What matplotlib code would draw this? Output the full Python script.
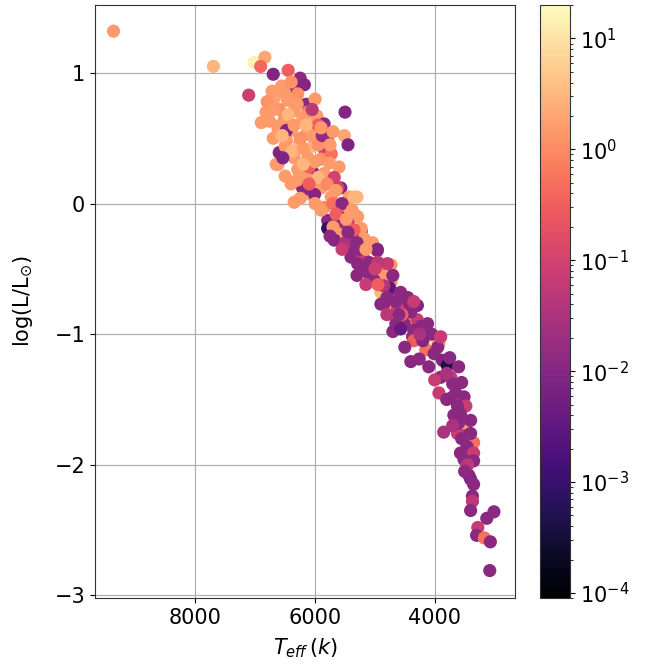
import matplotlib
matplotlib.use("Agg")
import matplotlib.pyplot as plt
from matplotlib.colors import LogNorm

# effective temperature (K)
teff = [
    # upper outliers
    9370, 7700, 7020, 6840, 6910, 6700, 7110, 6450, 6250, 6180, 6350, 5500, 5510, 5450, 6150,
    # upper orange blob
    6510, 6290, 6680, 6460, 6820, 6600, 6350, 6120, 5970, 5850, 6760, 6510, 6230, 6040, 6620,
    6400, 6150, 5930, 5790, 6600, 6480, 6260, 6040, 5850, 6620, 6350, 6120, 5900, 5730, 5600,
    6290, 6040, 5850, 5680, 5570, 6210, 6350, 6070, 5900, 5730, 5430, 5300, 5850, 5620, 5460,
    5320, 6650, 6180, 6010, 5620, 5350, 6720, 6560, 6400, 6580, 6450, 6300, 6200, 6050, 6700,
    6500, 6380, 6200, 5950, 5760, 6500, 6150, 5950, 6400, 5800, 6250, 6000, 5700, 5950, 6480,
    5880, 6540, 6300, 6100, 5700, 5750, 6000, 6050, 6800, 6900,
    6350, 6250, 6150, 5900, 6700, 6550, 6000, 6200, 5650, 6100,
    # middle band
    5790, 5790, 5540, 5620, 5900, 5290, 5230, 5680, 5400, 5180, 5230, 5040, 4960, 5400, 5200,
    5040, 4730, 5290, 4900, 4850, 5070, 4730, 4760, 4900, 4620, 4900, 4680, 4510, 4290, 4570,
    4350, 4120, 4460, 5450, 5180, 5400, 4960, 4790, 5010, 4760, 4570, 4850, 4620, 4290, 4510,
    5600, 5500, 5350, 5100, 4950, 5150, 5250, 4850, 4650, 4400, 4350, 5700, 5550, 5450, 5000,
    4800, 4550,
    5650, 5480, 5380, 5750, 5550, 5300, 5150, 5300, 5150, 4950, 4700, 4800, 4650, 4450, 4350,
    4700,
    # lower branch
    4600, 4570, 4230, 4370, 4150, 4350, 4120, 4150, 3930, 4010, 4400, 4260, 3870, 3790, 3600,
    3730, 3900, 3700, 3930, 3730, 3510, 3480, 3620, 3850, 3520, 3570, 3400, 3510, 3350, 3460,
    3570, 3350, 3680, 3620, 3400, 3510, 3350, 3430, 3400, 3370, 3370, 3010, 3130, 3280, 3300,
    3170, 3070, 3080, 4050, 3950, 3800, 3650, 3600, 3450, 3900, 4200, 3750, 3550,
    4250, 4500, 4100, 4000, 3800, 3700, 3550, 3500, 3350, 3400,
]

# log(L / Lsun)
logl = [
    1.32, 1.05, 1.08, 1.12, 1.05, 0.99, 0.83, 1.02, 0.96, 0.91, 0.89, 0.70, 0.52, 0.45, 0.76,
    0.85, 0.84, 0.81, 0.79, 0.70, 0.72, 0.71, 0.70, 0.67, 0.61, 0.63, 0.65, 0.62, 0.60, 0.57,
    0.56, 0.53, 0.54, 0.48, 0.39, 0.48, 0.46, 0.44, 0.42, 0.30, 0.35, 0.35, 0.34, 0.38, 0.28,
    0.26, 0.24, 0.23, 0.20, 0.12, 0.12, 0.01, 0.07, 0.12, 0.05, 0.05, 0.05, -0.03, -0.05, -0.03,
    -0.09, 0.30, 0.11, 0.07, 0.12, 0.05, 0.86, 0.90, 0.93, 0.60, 0.68, 0.76, 0.66, 0.52, 0.50,
    0.44, 0.40, 0.42, 0.45, 0.31, 0.21, 0.20, 0.20, 0.15, 0.15, 0.04, 0.00, 0.00, 0.60, 0.56,
    0.52, 0.35, 0.18, 0.28, 0.55, 0.45, 0.80, 0.72, 0.78, 0.62,
    0.60, 0.50, 0.60, 0.58, 0.72, 0.52, 0.32, 0.30, 0.10, 0.15,
    -0.13, -0.19, -0.19, -0.23, -0.05, -0.10, -0.21, -0.28, -0.28, -0.28, -0.19, -0.30, -0.36, -0.41, -0.41,
    -0.46, -0.47, -0.46, -0.54, -0.56, -0.57, -0.60, -0.64, -0.68, -0.69, -0.77, -0.82, -0.79, -0.78, -0.94,
    -0.89, -0.92, -0.92, -0.15, -0.27, -0.36, -0.35, -0.46, -0.59, -0.65, -0.68, -0.77, -0.80, -0.89, -0.92,
    -0.10, -0.30, -0.20, -0.45, -0.45, -0.52, -0.35, -0.63, -0.75, -0.83, -0.97, -0.18, 0.00, -0.22, -0.50,
    -0.72, -0.85,
    -0.08, -0.12, -0.05, -0.25, -0.35, -0.30, -0.35, -0.55, -0.62, -0.62, -0.55, -0.85, -0.92, -0.72, -0.75,
    -0.98,
    -0.85, -0.96, -0.94, -1.02, -0.99, -1.05, -1.08, -1.12, -1.07, -1.15, -1.21, -1.19, -1.20, -1.24, -1.25,
    -1.33, -1.33, -1.38, -1.45, -1.49, -1.48, -1.55, -1.55, -1.75, -1.71, -1.61, -1.66, -1.78, -1.83, -1.86,
    -1.91, -1.91, -1.62, -1.76, -1.76, -1.96, -1.97, -2.08, -2.11, -2.24, -2.28, -2.36, -2.41, -2.48, -2.54,
    -2.56, -2.59, -2.81, -1.00, -1.10, -1.30, -1.45, -1.68, -2.00, -1.02, -1.05, -1.18, -1.37,
    -1.00, -1.10, -1.25, -1.35, -1.50, -1.70, -1.80, -2.05, -2.15, -2.35,
]

# colour quantity (log scaled)
cval = [
    1.5, 3, 15, 2, 0.4, 0.01, 0.08, 0.3, 0.012, 0.01, 0.008, 0.01, 2, 0.008, 0.012,
    1.5, 1.2, 1.8, 1.5, 1.5, 1.2, 1.5, 1.0, 1.5, 0.012, 1.5, 1.2, 3, 1.5, 1.5,
    1.3, 1.5, 0.5, 0.01, 0.01, 1.5, 3, 3, 0.08, 1.5, 1.5, 1.5, 1.2, 0.5, 1.5,
    1.5, 0.01, 1.5, 0.1, 0.01, 0.01, 1.5, 1.5, 1.5, 1.5, 1.5, 3, 1.0, 0.01, 1.5,
    1.5, 1.5, 0.012, 0.01, 0.1, 3, 1.5, 1.5, 1.2, 1.5, 3, 1.5, 1.5, 1.5, 1.5,
    1.5, 3, 1.5, 1.2, 1.5, 1.5, 1.5, 3, 1.5, 1.0, 1.5, 1.5, 0.5, 0.3, 0.01,
    0.015, 0.008, 1.5, 0.3, 1.5, 1.5, 1.5, 0.05, 1.2, 1.5,
    1.5, 1.2, 3, 1.5, 1.5, 3, 1.5, 3, 1.5, 0.3,
    0.012, 0.0008, 0.012, 1.5, 1.5, 1.5, 0.01, 0.01, 0.012, 0.08, 1.5, 1.5, 0.01, 0.012, 0.07,
    0.3, 1.5, 0.012, 0.5, 1.5, 0.01, 1.5, 0.01, 3, 0.07, 0.01, 1.5, 0.012, 0.01, 0.012,
    0.01, 0.012, 1.5, 0.05, 1.5, 0.012, 0.01, 0.07, 0.012, 0.003, 0.012, 0.012, 0.07, 0.07, 0.012,
    0.012, 0.03, 0.3, 0.012, 0.05, 0.012, 0.012, 0.04, 0.012, 0.012, 0.012, 1.5, 0.012, 0.012, 0.08,
    0.012, 0.3,
    0.3, 1.5, 1.5, 0.012, 0.07, 0.012, 1.5, 0.012, 0.07, 0.3, 0.012, 0.05, 0.012, 0.012, 0.07,
    0.012,
    0.012, 0.004, 0.012, 0.012, 0.012, 0.3, 10, 0.5, 1.5, 0.012, 0.012, 0.012, 0.01, 0.0004, 0.012,
    0.07, 0.012, 0.012, 0.07, 0.012, 0.012, 0.07, 0.012, 0.03, 1.5, 0.012, 0.012, 0.012, 0.5, 0.012,
    0.012, 0.07, 0.012, 0.07, 0.012, 0.012, 0.012, 0.012, 0.01, 0.012, 0.05, 0.012, 0.012, 0.07, 0.012,
    0.5, 0.012, 0.012, 0.012, 0.012, 0.03, 0.012, 0.012, 0.05, 0.07, 0.01, 0.012, 0.012,
    0.03, 0.012, 0.012, 0.07, 0.012, 0.03, 0.012, 0.012, 0.012, 0.012,
]

fig = plt.figure(figsize=(6.52, 6.64), dpi=100)
ax = fig.add_axes([0.1457, 0.0994, 0.644, 0.893])
cax = fig.add_axes([0.828, 0.0994, 0.046, 0.893])

sc = ax.scatter(teff, logl, c=cval, cmap='magma', norm=LogNorm(vmin=9e-5, vmax=20),
                s=90, linewidths=0)
ax.set_xlim(9680, 2660)
ax.set_ylim(-3.02, 1.52)
ax.set_xticks([8000, 6000, 4000])
ax.set_yticks([-3, -2, -1, 0, 1])
ax.grid(True, color='#b0b0b0', linewidth=0.9)
ax.set_axisbelow(True)
ax.tick_params(labelsize=15)
ax.set_xlabel(r'$T_{eff}\,(k)$', fontsize=15, labelpad=6)
ax.set_ylabel(r'log(L/L$_{\odot}$)', fontsize=15, labelpad=14)
for sp in ax.spines.values():
    sp.set_color('#333333')

cb = fig.colorbar(sc, cax=cax)
cb.ax.tick_params(labelsize=15)
cb.outline.set_edgecolor('#333333')

fig.savefig('out.png', dpi=100)
